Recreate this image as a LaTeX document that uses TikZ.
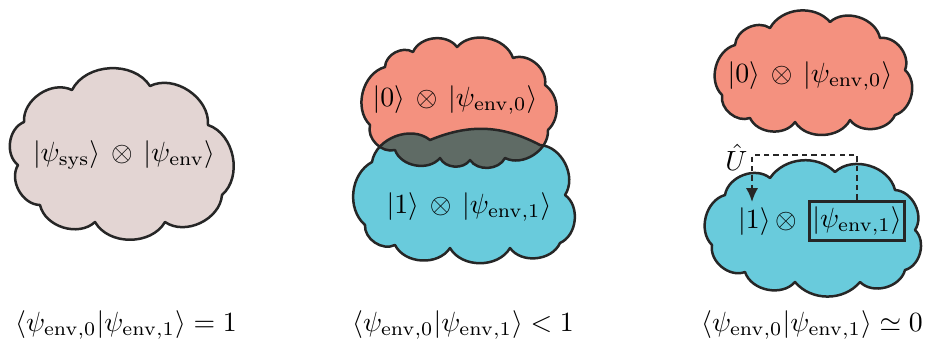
\documentclass[tikz,border=0pt]{standalone}
\usepackage{amsmath}
\usetikzlibrary{arrows.meta}
\definecolor{cbeige}{HTML}{E3D5D3}
\definecolor{cred}{HTML}{F4917F}
\definecolor{cblue}{HTML}{69CBDC}
\definecolor{cdark}{HTML}{5F6B65}
\newcommand\cloudL{(24,122) to[bend left=60] (72,90) to[bend left=60] (150,86) to[bend left=60] (208,125) to[bend left=60] (222,195) to[bend left=60] (165,222) to[bend left=60] (95,222) to[bend left=60] (40,205) to[bend left=60] (18,165) to[bend left=60] (24,122) -- cycle}
\newcommand\cloudMR{(385,67) to[bend left=60] (413,52) to[bend left=60] (457,47) to[bend left=60] (513,58) to[bend left=60] (545,85) to[bend left=50] (548,130) to[bend left=60] (505,158) to[bend left=60] (470,160) to[bend left=60] (440,158) to[bend left=60] (395,150) to[bend left=60] (370,125) to[bend left=60] (385,67) -- cycle}
\newcommand\cloudMB{(372,162) to[bend left=60] (430,140) to[bend left=25] (540,145) to[bend left=60] (565,195) to[bend left=60] (560,243) to[bend left=60] (510,248) to[bend left=60] (450,248) to[bend left=60] (395,245) to[bend left=60] (365,225) to[bend left=55] (372,162) -- cycle}
\newcommand\cloudRR{(735,45) to[bend left=60] (770,28) to[bend left=55] (830,22) to[bend left=60] (880,38) to[bend left=60] (905,70) to[bend left=60] (895,115) to[bend left=60] (850,120) to[bend left=60] (795,122) to[bend left=60] (750,118) to[bend left=60] (722,95) to[bend left=60] (735,45) -- cycle}
\newcommand\cloudRB{(725,195) to[bend left=60] (770,178) to[bend left=50] (835,172) to[bend left=60] (895,190) to[bend left=60] (915,230) to[bend left=60] (905,270) to[bend left=60] (860,282) to[bend left=50] (795,282) to[bend left=60] (745,272) to[bend left=60] (712,245) to[bend left=60] (725,195) -- cycle}
\newcommand\ot{\,\otimes\,}
\begin{document}
\begin{tikzpicture}[x=0.36pt,y=-0.36pt,
  outline/.style={draw=black!85, line width=0.9pt, line join=round},
  lbl/.style={inner sep=0pt},
  dashline/.style={draw=black!85, line width=0.75pt, dash pattern=on 1.9pt off 1.5pt},
  ketbox/.style={draw=black!85, line width=1.1pt, inner xsep=1.2pt, inner ysep=2pt}]
\useasboundingbox (0,0) rectangle (935,351);
% left cloud
\fill[cbeige] \cloudL;
\draw[outline] \cloudL;
% middle clouds
\fill[cred] \cloudMR;
\fill[cblue] \cloudMB;
\begin{scope}
  \clip \cloudMR;
  \fill[cdark] \cloudMB;
\end{scope}
\draw[outline] \cloudMR;
\draw[outline] \cloudMB;
% right clouds
\fill[cred] \cloudRR;
\draw[outline] \cloudRR;
\fill[cblue] \cloudRB;
\draw[outline] \cloudRB;
% texts
\node[lbl] (tL) at (124,155) {$\lvert\psi_{\mathrm{sys}}\rangle\ot\lvert\psi_{\mathrm{env}}\rangle$};
\node[lbl] (tMR) at (455,100) {$\lvert 0\rangle\ot\lvert\psi_{\mathrm{env},0}\rangle$};
\node[lbl] (tMB) at (469,207) {$\lvert 1\rangle\ot\lvert\psi_{\mathrm{env},1}\rangle$};
\node[lbl] (tRR) at (810,76) {$\lvert 0\rangle\ot\lvert\psi_{\mathrm{env},0}\rangle$};
\node[ketbox] (box) at (857,221) {$\lvert\psi_{\mathrm{env},1}\rangle$};
\node[lbl, anchor=east] (tRB) at (802,222) {$\lvert 1\rangle\ot$};
\node[lbl, anchor=east] (U) at (748,157) {$\hat{U}$};
\coordinate (corner) at (752,155);
\coordinate (tip) at (752,202);
\draw[dashline, -{Latex[length=5pt,width=4.4pt]}] (box.north) |- (corner) -- (tip);
% bottom labels
\node[lbl] (bL) at (126,325) {$\langle\psi_{\mathrm{env},0}|\psi_{\mathrm{env},1}\rangle = 1$};
\node[lbl] (bM) at (463,325) {$\langle\psi_{\mathrm{env},0}|\psi_{\mathrm{env},1}\rangle < 1$};
\node[lbl] (bR) at (812,325) {$\langle\psi_{\mathrm{env},0}|\psi_{\mathrm{env},1}\rangle \simeq 0$};
\end{tikzpicture}
\end{document}
